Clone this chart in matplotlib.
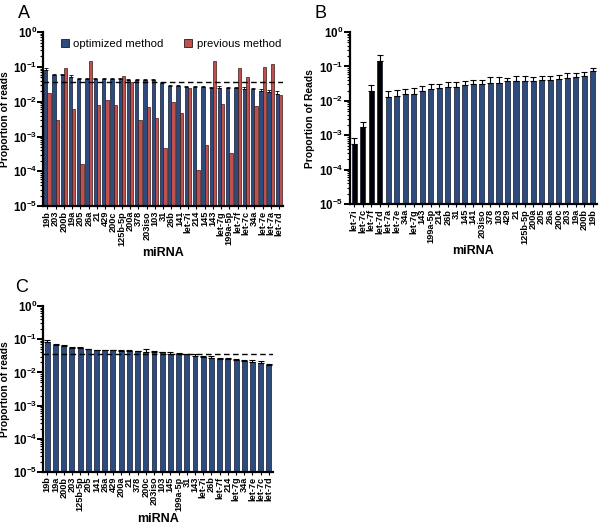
import numpy as np
import matplotlib
matplotlib.use("Agg")
import matplotlib.pyplot as plt
from matplotlib.patches import Patch
from matplotlib.ticker import LogLocator, FixedLocator, NullFormatter

plt.rcParams['font.family'] = ['Liberation Sans', 'DejaVu Sans']
plt.rcParams['mathtext.fontset'] = 'custom'
plt.rcParams['mathtext.rm'] = 'Liberation Sans'
plt.rcParams['mathtext.bf'] = 'Liberation Sans:bold'

# ---------------- Data ----------------
a_labels = ["19b", "203", "200b", "19a", "205", "26a", "21", "429", "200c", "125b-5p",
            "200a", "378", "203iso", "103", "31", "26b", "141", "let-7i", "214", "145",
            "143", "let-7g", "199a-5p", "let-7f", "let-7c", "34a", "let-7e", "let-7a", "let-7d"]
a_optimized = [0.080, 0.058, 0.057, 0.051, 0.046, 0.046, 0.044, 0.044, 0.044, 0.044,
               0.041, 0.041, 0.041, 0.041, 0.035, 0.028, 0.028, 0.026, 0.026, 0.026,
               0.025, 0.025, 0.025, 0.024, 0.023, 0.023, 0.021, 0.019, 0.017]
a_opt_err = [0.010, 0.004, 0.004, 0.006, 0.003, 0.003, 0.003, 0.003, 0.003, 0.004,
             0.004, 0.003, 0.003, 0.003, 0.002, 0.002, 0.002, 0.002, 0.002, 0.002,
             0.002, 0.003, 0.002, 0.002, 0.003, 0.002, 0.002, 0.003, 0.003]
a_previous = [0.018, 0.0029, 0.090, 0.0063, 0.00015, 0.15, 0.0079, 0.011, 0.0083, 0.054,
              0.037, 0.0030, 0.0071, 0.0034, 0.00045, 0.0098, 0.0046, 0.025, 0.0001, 0.00055,
              0.15, 0.0088, 0.00032, 0.090, 0.050, 0.0074, 0.10, 0.12, 0.016]
a_threshold = 0.036

b_labels = ["let-7i", "let-7c", "let-7f", "let-7d", "let-7a", "let-7e", "34a", "let-7g", "143",
            "199a-5p", "214", "26b", "31", "145", "141", "203iso", "378", "103", "429", "21",
            "125b-5p", "200a", "205", "26a", "200c", "203", "19a", "200b", "19b"]
b_values = [0.00053, 0.0017, 0.019, 0.14, 0.013, 0.014, 0.016, 0.016, 0.020,
            0.022, 0.023, 0.025, 0.026, 0.029, 0.030, 0.032, 0.033, 0.034, 0.037, 0.039,
            0.039, 0.039, 0.040, 0.040, 0.042, 0.045, 0.050, 0.053, 0.072]
b_err = [0.00030, 0.0008, 0.009, 0.07, 0.006, 0.007, 0.006, 0.007, 0.007,
         0.008, 0.009, 0.010, 0.010, 0.010, 0.010, 0.008, 0.016, 0.016, 0.010, 0.015,
         0.014, 0.012, 0.012, 0.014, 0.016, 0.018, 0.015, 0.018, 0.017]
b_control = 4  # first four bars drawn in black

c_labels = ["19b", "19a", "200b", "203", "125b-5p", "205", "141", "26a", "429", "200a",
            "21", "378", "200c", "203iso", "103", "145", "199a-5p", "31", "143", "let-7i",
            "26b", "let-7f", "214", "let-7g", "34a", "let-7e", "let-7c", "let-7d"]
c_values = [0.085, 0.065, 0.063, 0.056, 0.055, 0.050, 0.047, 0.047, 0.046, 0.045,
            0.044, 0.043, 0.041, 0.041, 0.040, 0.036, 0.037, 0.035, 0.031, 0.029,
            0.028, 0.026, 0.025, 0.024, 0.022, 0.021, 0.019, 0.0165]
c_err = [0.010, 0.008, 0.003, 0.003, 0.003, 0.002, 0.002, 0.002, 0.002, 0.002,
         0.003, 0.002, 0.010, 0.003, 0.002, 0.004, 0.002, 0.002, 0.004, 0.002,
         0.003, 0.002, 0.003, 0.002, 0.002, 0.002, 0.003, 0.002]
c_threshold = 0.036

BLUE = "#2D4B7C"
RED = "#C0504D"

fig = plt.figure(figsize=(6.0, 5.26), dpi=100)

def style_axis(ax, n, labels, ylabel, ylab_x):
    ax.set_yscale('log')
    ax.set_ylim(1e-5, 1)
    ax.set_xlim(-0.5, n - 0.5)
    for s in ['top', 'right']:
        ax.spines[s].set_visible(False)
    for s in ['left', 'bottom']:
        ax.spines[s].set_linewidth(1.6)
    ax.yaxis.set_major_locator(FixedLocator([1e-5, 1e-4, 1e-3, 1e-2, 1e-1, 1]))
    ax.set_yticklabels([r'$\mathbf{10^{-5}}$', r'$\mathbf{10^{-4}}$', r'$\mathbf{10^{-3}}$',
                        r'$\mathbf{10^{-2}}$', r'$\mathbf{10^{-1}}$', r'$\mathbf{10^{0}}$'],
                       fontsize=8.4)
    ax.yaxis.set_minor_locator(LogLocator(base=10, subs=np.arange(2, 10), numticks=20))
    ax.yaxis.set_minor_formatter(NullFormatter())
    ax.tick_params(axis='y', which='major', length=4, width=1.4, pad=0.5)
    ax.tick_params(axis='y', which='minor', length=2, width=0.8)
    ax.set_xticks(np.arange(n))
    ax.set_xticklabels(labels, rotation=90, fontsize=6.6, fontweight='bold')
    ax.tick_params(axis='x', length=2.5, width=0.8, pad=1)
    ax.set_xlabel("miRNA", fontsize=9, fontweight='bold', labelpad=1)
    ax.set_ylabel(ylabel, fontsize=7.4, fontweight='bold')
    ax.yaxis.set_label_coords(ylab_x, 0.5)

# ---------------- Panel A ----------------
axA = fig.add_axes([0.072, 0.608, 0.40, 0.331])
nA = len(a_labels)
xA = np.arange(nA)
axA.bar(xA - 0.2, a_optimized, width=0.4, bottom=1e-5, color=BLUE, edgecolor='#101830',
        linewidth=0.5, yerr=[np.zeros(nA), a_opt_err],
        error_kw=dict(ecolor='black', elinewidth=0.6, capsize=1.2, capthick=0.6))
axA.bar(xA + 0.2, a_previous, width=0.4, bottom=1e-5, color=RED, edgecolor='#3a1a18', linewidth=0.5)
axA.plot([-0.5, nA - 0.5], [a_threshold, a_threshold], ls=(0, (4, 2.5)), color='black', lw=1.0)
style_axis(axA, nA, a_labels, "Proportion of reads", -0.138)
axA.legend(handles=[Patch(facecolor=BLUE, edgecolor='black', linewidth=0.5, label='optimized method'),
                    Patch(facecolor=RED, edgecolor='black', linewidth=0.5, label='previous method')],
           loc='upper left', bbox_to_anchor=(0.03, 1.02), ncol=2, frameon=False, fontsize=8.2,
           handlelength=0.7, handleheight=0.7, handletextpad=0.4, columnspacing=1.8)
fig.text(0.03, 0.99, "A", fontsize=13, va='top')

# ---------------- Panel B ----------------
axB = fig.add_axes([0.583, 0.612, 0.412, 0.327])
nB = len(b_labels)
xB = np.arange(nB)
colorsB = ['black'] * b_control + [BLUE] * (nB - b_control)
axB.bar(xB, b_values, width=0.6, bottom=1e-5, color=colorsB, edgecolor='#101830', linewidth=0.5,
        yerr=[np.zeros(nB), b_err], error_kw=dict(ecolor='black', elinewidth=0.8, capsize=2, capthick=0.8))
style_axis(axB, nB, b_labels, "Proportion of Reads", -0.14)
fig.text(0.525, 0.99, "B", fontsize=13, va='top')

# ---------------- Panel C ----------------
axC = fig.add_axes([0.072, 0.103, 0.383, 0.315])
nC = len(c_labels)
xC = np.arange(nC)
axC.bar(xC, c_values, width=0.6, bottom=1e-5, color=BLUE, edgecolor='#101830', linewidth=0.5,
        yerr=[np.zeros(nC), c_err], error_kw=dict(ecolor='black', elinewidth=0.8, capsize=2, capthick=0.8))
axC.plot([-0.5, nC - 0.5], [c_threshold, c_threshold], ls=(0, (4, 2.5)), color='black', lw=1.0)
style_axis(axC, nC, c_labels, "Proportion of reads", -0.145)
fig.text(0.025, 0.47, "C", fontsize=13, va='top')

fig.savefig("out.png", dpi=100)
